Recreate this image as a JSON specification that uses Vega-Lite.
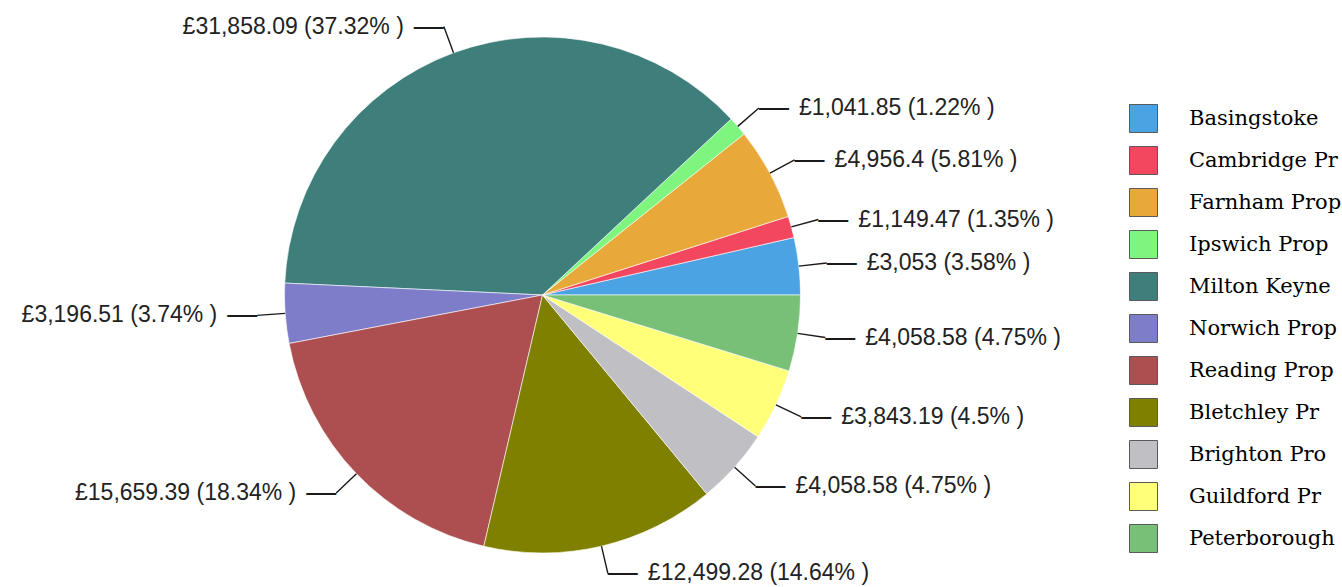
{
  "$schema": "https://vega.github.io/schema/vega-lite/v6.json",
  "width": 1085,
  "height": 584,
  "autosize": {"type": "none"},
  "padding": {"left": 0, "top": 3, "right": 257, "bottom": 0},
  "background": "#ffffff",
  "data": {
    "values": [
      {"i": 1, "name": "Basingstoke", "value": 3053, "label": "£3,053 (3.58% )"},
      {"i": 2, "name": "Cambridge Pr", "value": 1149.47, "label": "£1,149.47 (1.35% )"},
      {"i": 3, "name": "Farnham Prop", "value": 4956.4, "label": "£4,956.4 (5.81% )"},
      {"i": 4, "name": "Ipswich Prop", "value": 1041.85, "label": "£1,041.85 (1.22% )"},
      {"i": 5, "name": "Milton Keyne", "value": 31858.09, "label": "£31,858.09 (37.32% )"},
      {"i": 6, "name": "Norwich Prop", "value": 3196.51, "label": "£3,196.51 (3.74% )"},
      {"i": 7, "name": "Reading Prop", "value": 15659.39, "label": "£15,659.39 (18.34% )"},
      {"i": 8, "name": "Bletchley Pr", "value": 12499.28, "label": "£12,499.28 (14.64% )"},
      {"i": 9, "name": "Brighton Pro", "value": 4058.58, "label": "£4,058.58 (4.75% )"},
      {"i": 10, "name": "Guildford Pr", "value": 3843.19, "label": "£3,843.19 (4.5% )"},
      {"i": 11, "name": "Peterborough", "value": 4058.58, "label": "£4,058.58 (4.75% )"}
    ]
  },
  "encoding": {
    "theta": {"field": "value", "type": "quantitative", "stack": true, "scale": {"range": [1.5707963, -4.712389]}},
    "order": {"field": "i", "type": "quantitative"}
  },
  "layer": [
    {
      "mark": {"type": "arc", "outerRadius": 258, "stroke": "#ffffff", "strokeWidth": 0.6},
      "encoding": {
        "color": {
          "field": "name",
          "type": "nominal",
          "sort": null,
          "scale": {
            "domain": ["Basingstoke", "Cambridge Pr", "Farnham Prop", "Ipswich Prop", "Milton Keyne", "Norwich Prop", "Reading Prop", "Bletchley Pr", "Brighton Pro", "Guildford Pr", "Peterborough"],
            "range": ["#4ba3e3", "#f2475f", "#e9a93a", "#7ef57e", "#3e7f7b", "#7d7dca", "#ad4f50", "#808000", "#c0c0c4", "#ffff7a", "#78bf78"]
          },
          "legend": {
            "orient": "none",
            "legendX": 1129,
            "legendY": 101,
            "title": null,
            "padding": 0,
            "symbolType": "square",
            "symbolSize": 784,
            "symbolStrokeColor": "#5a5a5a",
            "symbolStrokeWidth": 1,
            "labelFont": "DejaVu Serif",
            "labelFontSize": 21,
            "labelColor": "#000000",
            "labelOffset": 31,
            "labelLimit": 400,
            "rowPadding": 9,
            "encode": {"symbols": {"update": {"stroke": {"value": "#5a5a5a"}, "strokeWidth": {"value": 1}}}}
          }
        }
      }
    },
    {
      "mark": {"type": "arc", "innerRadius": 258, "outerRadius": 286, "padAngle": 3, "fill": "transparent", "stroke": "#1a1a1a", "strokeWidth": 1.4}
    },
    {
      "mark": {"type": "text", "radius": 286, "align": "left", "baseline": "middle", "font": "Liberation Sans", "fontSize": 30, "color": "#1a1a1a"},
      "encoding": {
        "text": {"condition": {"test": "indexof(['Milton Keyne','Norwich Prop','Reading Prop'], datum.name) < 0", "value": "—"}, "value": ""}
      }
    },
    {
      "mark": {"type": "text", "radius": 286, "align": "right", "baseline": "middle", "font": "Liberation Sans", "fontSize": 30, "color": "#1a1a1a"},
      "encoding": {
        "text": {"condition": {"test": "indexof(['Milton Keyne','Norwich Prop','Reading Prop'], datum.name) >= 0", "value": "—"}, "value": ""}
      }
    },
    {
      "mark": {"type": "text", "radius": 286, "dx": 40, "align": "left", "baseline": "middle", "font": "Liberation Sans", "fontSize": 23, "color": "#222222"},
      "encoding": {
        "text": {"condition": {"test": "indexof(['Milton Keyne','Norwich Prop','Reading Prop'], datum.name) < 0", "field": "label"}, "value": ""}
      }
    },
    {
      "mark": {"type": "text", "radius": 286, "dx": -40, "align": "right", "baseline": "middle", "font": "Liberation Sans", "fontSize": 23, "color": "#222222"},
      "encoding": {
        "text": {"condition": {"test": "indexof(['Milton Keyne','Norwich Prop','Reading Prop'], datum.name) >= 0", "field": "label"}, "value": ""}
      }
    }
  ],
  "config": {"view": {"stroke": null}}
}
